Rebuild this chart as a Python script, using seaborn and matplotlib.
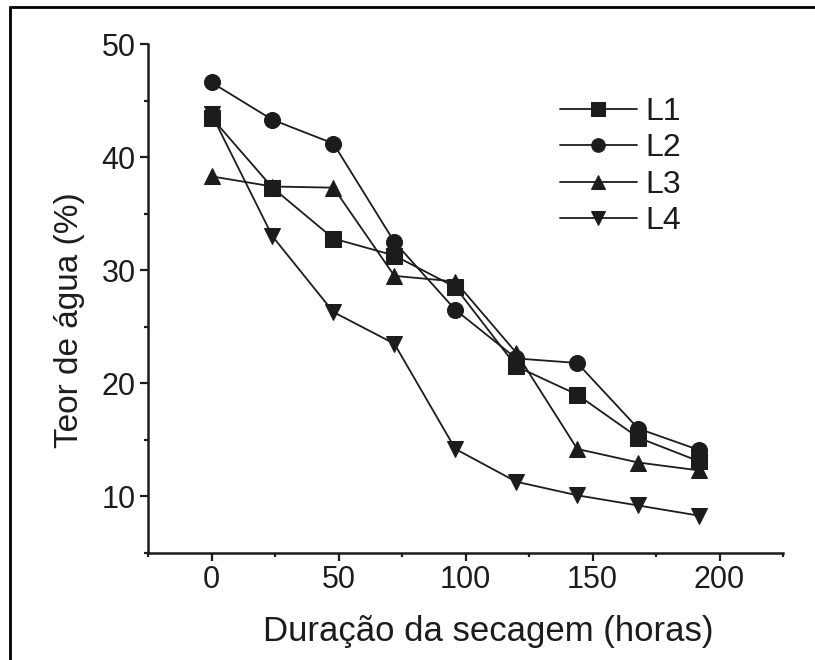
import matplotlib
matplotlib.use("Agg")
import matplotlib.pyplot as plt
from matplotlib.ticker import MultipleLocator
from matplotlib.lines import Line2D
import seaborn as sns
import pandas as pd

hours = [0, 24, 48, 72, 96, 120, 144, 168, 192]
L1 = [43.5, 37.3, 32.8, 31.3, 28.5, 21.5, 19.0, 15.2, 13.1]
L2 = [46.6, 43.3, 41.2, 32.5, 26.5, 22.2, 21.8, 16.0, 14.1]
L3 = [38.3, 37.4, 37.3, 29.5, 29.0, 22.7, 14.2, 13.0, 12.3]
L4 = [43.8, 33.0, 26.3, 23.5, 14.2, 11.3, 10.1, 9.2, 8.3]
series_names = ["L1", "L2", "L3", "L4"]
series_values = [L1, L2, L3, L4]
x_ticks = [0, 50, 100, 150, 200]
y_ticks = [10, 20, 30, 40, 50]

rows = []
for name, vals in zip(series_names, series_values):
    for h, v in zip(hours, vals):
        rows.append({"hours": h, "teor": v, "serie": name})
df = pd.DataFrame(rows)

sns.set_theme(style="ticks")
plt.rcParams['font.family'] = ['Liberation Sans', 'DejaVu Sans']

ink = "#1c1c1c"
fig = plt.figure(figsize=(8.15, 6.6), dpi=100)
ax = fig.add_axes([148/815, 1-553/660, (783-148)/815, (553-44)/660])

sns.lineplot(data=df, x="hours", y="teor", hue="serie", style="serie",
             palette=[ink]*4, markers={"L1": "s", "L2": "o", "L3": "^", "L4": "v"},
             dashes=False, markersize=11.5, markeredgecolor=ink, linewidth=1.3,
             ax=ax, legend=True)

ax.set_xlim(-25, 225)
ax.set_ylim(5, 50)
ax.set_xticks(x_ticks)
ax.set_yticks(y_ticks)
ax.xaxis.set_minor_locator(MultipleLocator(25))
ax.yaxis.set_minor_locator(MultipleLocator(5))
ax.tick_params(which="major", direction="out", length=6, width=1.6, labelsize=22, colors=ink, pad=3)
ax.tick_params(which="minor", direction="out", length=3, width=1.6, colors=ink)
for s in ["top", "right"]:
    ax.spines[s].set_visible(False)
for s in ["left", "bottom"]:
    ax.spines[s].set_linewidth(1.8)
    ax.spines[s].set_color(ink)

ax.set_xlabel("Duração da secagem (horas)", fontsize=25, color=ink)
ax.set_ylabel("Teor de água (%)", fontsize=24, color=ink)
ax.xaxis.set_label_coords((488-148)/635, (553-615)/509)
ax.yaxis.set_label_coords((85-148)/635, (553-320)/509)

leg = ax.legend(loc="upper left", bbox_to_anchor=((560-148)/635, (553-97)/509), frameon=False,
                fontsize=23, handlelength=2.4, labelspacing=0.2, handletextpad=0.27,
                borderpad=0, borderaxespad=0, markerscale=0.85)
for t in leg.get_texts():
    t.set_color(ink)

fig.add_artist(Line2D([9.5/815, 9.5/815], [0, 1-7/660], transform=fig.transFigure, color="black", linewidth=2))
fig.add_artist(Line2D([9.5/815, 1], [1-7/660, 1-7/660], transform=fig.transFigure, color="black", linewidth=2))

fig.savefig("out.png", dpi=100)
